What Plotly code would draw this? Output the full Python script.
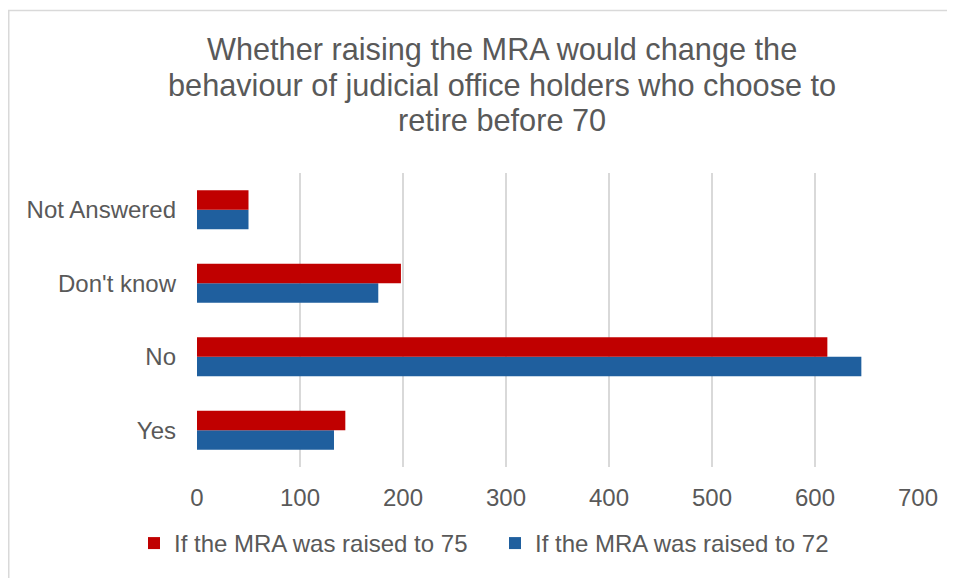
import plotly.graph_objects as go

categories = ["Yes", "No", "Don't know", "Not Answered"]
raised_75 = [144, 612, 198, 50]
raised_72 = [133, 645, 176, 50]
x_ticks = [0, 100, 200, 300, 400, 500, 600, 700]

title_lines = ["Whether raising the MRA would change the",
               "behaviour of judicial office holders who choose to",
               "retire before 70"]

TXT = "#595959"
FONT = "Liberation Sans, Arial, sans-serif"

fig = go.Figure()
fig.add_trace(go.Bar(y=categories, x=raised_72, orientation="h",
                     name="If the MRA was raised to 72",
                     marker=dict(color="#1F5F9E", line=dict(width=0))))
fig.add_trace(go.Bar(y=categories, x=raised_75, orientation="h",
                     name="If the MRA was raised to 75",
                     marker=dict(color="#C00000", line=dict(width=0))))

# page has an 8px body margin, so figure coords = screenshot coords - 8
W, H = 947, 570
L, R, T, B = 189, 37, 165, 109
pw, ph = W - L - R, H - T - B

title_y = [41, 77, 112]
annotations = [dict(text=t, xref="paper", yref="paper",
                    x=(494 - L) / pw, y=(H - B - yy) / ph,
                    xanchor="center", yanchor="middle", showarrow=False,
                    font=dict(size=30.7, color=TXT, family=FONT))
               for t, yy in zip(title_lines, title_y)]

fig.update_layout(
    width=W, height=H,
    margin=dict(l=L, r=R, t=T, b=B, pad=0),
    paper_bgcolor="white", plot_bgcolor="white",
    font=dict(family=FONT, color=TXT, size=24),
    barmode="group", bargap=0.47, bargroupgap=0,
    xaxis=dict(range=[0, 700], tickvals=x_ticks, showgrid=True,
               gridcolor="#D9D9D9", gridwidth=1.5, zeroline=False,
               showline=False, ticks="", ticklabelstandoff=14,
               tickfont=dict(size=24, color=TXT)),
    yaxis=dict(showgrid=False, zeroline=False, showline=False, ticks="",
               ticklabelstandoff=20, tickfont=dict(size=24, color=TXT)),
    legend=dict(orientation="h", x=(126 - L) / pw, xanchor="left",
                y=(H - B - 538) / ph, yanchor="middle",
                traceorder="reversed", font=dict(size=24, color=TXT),
                entrywidth=316, entrywidthmode="pixels"),
    annotations=annotations,
    shapes=[dict(type="rect", xref="paper", yref="paper",
                 x0=(0.75 - L) / pw, x1=2, y0=-2, y1=(H - B - 1.5) / ph,
                 line=dict(color="#D9D9D9", width=1.5), layer="below")],
)

fig.write_html("out.html")
